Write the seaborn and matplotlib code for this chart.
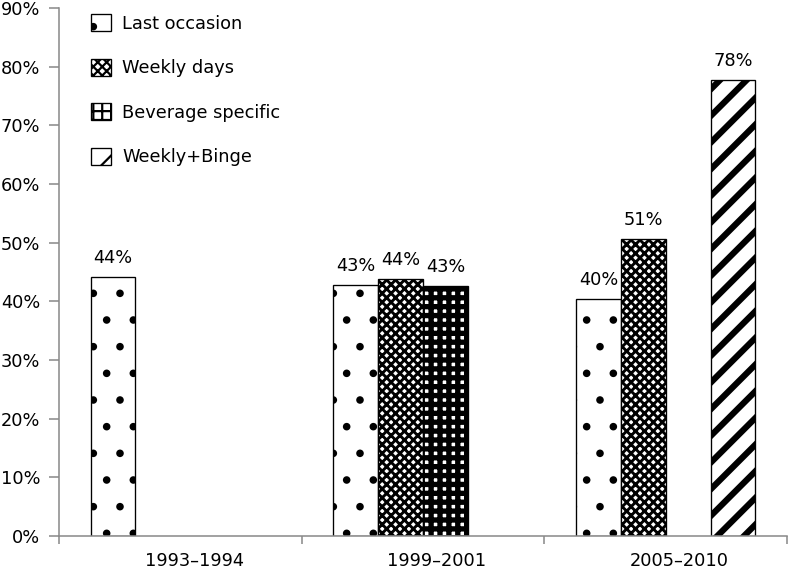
import numpy as np
import pandas as pd
import matplotlib
matplotlib.use('Agg')
import matplotlib.pyplot as plt
import matplotlib.patches as mpatches
import matplotlib.transforms as mtransforms
import seaborn as sns

# data (percent)
periods = ['1993–1994', '1999–2001', '2005–2010']
measures = ['Last occasion', 'Weekly days', 'Beverage specific', 'Weekly+Binge']
last_occasion = [44.1, 42.8, 40.4]
weekly_days = [np.nan, 43.8, 50.6]
beverage_specific = [np.nan, 42.6, np.nan]
weekly_binge = [np.nan, np.nan, 77.8]

rows = []
for m, vals in zip(measures, [last_occasion, weekly_days, beverage_specific, weekly_binge]):
    for p, v in zip(periods, vals):
        rows.append({'period': p, 'measure': m, 'value': v})
df = pd.DataFrame(rows).dropna()

sns.set_style('white')
plt.rcParams['font.family'] = ['DejaVu Sans']
plt.rcParams['font.size'] = 8
plt.rcParams['text.color'] = 'black'
plt.rcParams['xtick.color'] = 'black'
plt.rcParams['ytick.color'] = 'black'

DPI = 160
fig = plt.figure(figsize=(788 / DPI, 571 / DPI), dpi=DPI)
ax = fig.add_axes([59 / 788, 35 / 571, 728 / 788, 528 / 571])

WIDTH = 0.74
sns.barplot(data=df, x='period', y='value', hue='measure', order=periods,
            hue_order=measures, palette=['white'] * 4, saturation=1,
            width=WIDTH, edgecolor='black', linewidth=0.6, legend=False, ax=ax)

# hatch pattern + hatch linewidth (pt) per measure
styles = {
    'Last occasion': ('.', 1.0),
    'Weekly days': ('xxxxxx', 1.3),
    'Beverage specific': ('+++', 2.4),
    'Weekly+Binge': ('//', 2.8),
}

def style_patch(p, m):
    h, lw = styles[m]
    p.set_hatch(h)
    if hasattr(p, 'set_hatch_linewidth'):
        p.set_hatch_linewidth(lw)

for p in ax.patches:
    if p.get_height() == 0 or np.isnan(p.get_height()):
        continue
    cx = p.get_x() + p.get_width() / 2
    cat = round(cx)
    slot = int(round((cx - cat + WIDTH / 2) / (WIDTH / 4) - 0.5))
    style_patch(p, measures[slot])
    ax.annotate(f'{p.get_height():.0f}%', (cx, p.get_height()), xytext=(0, 4.5),
                textcoords='offset points', ha='center', va='bottom', fontsize=8)

ax.set_ylim(0, 90)
ax.set_yticks(range(0, 91, 10))
ax.set_yticklabels([f'{t}%' for t in range(0, 91, 10)])
ax.set_xlim(-0.5, 2.5)
ax.set_xticks([-0.5, 0.5, 1.5, 2.5])
ax.set_xticklabels([])
ax.set_xticks(range(len(periods)), minor=True)
ax.set_xticklabels(periods, minor=True)
ax.set_xlabel('')
ax.set_ylabel('')

gray = '#8a8a8a'
for s in ['top', 'right']:
    ax.spines[s].set_visible(False)
for s in ['left', 'bottom']:
    ax.spines[s].set_color(gray)
    ax.spines[s].set_linewidth(0.7)
ax.tick_params(axis='y', which='major', direction='out', length=4.5, width=0.7,
               color=gray, labelcolor='black', pad=4, labelsize=8, left=True)
ax.tick_params(axis='x', which='major', direction='out', length=3.6, width=0.7,
               color=gray, bottom=True)
ax.tick_params(axis='x', which='minor', length=0, pad=7, labelsize=8, labelcolor='black')
shift = mtransforms.ScaledTranslation(14 / DPI, 0, fig.dpi_scale_trans)
for lab in ax.get_xticklabels(minor=True):
    lab.set_transform(lab.get_transform() + shift)

handles = []
for m in measures:
    hp = mpatches.Patch(facecolor='white', edgecolor='black', linewidth=0.6)
    style_patch(hp, m)
    handles.append(hp)
ax.legend(handles, measures, loc='upper left', bbox_to_anchor=(32 / 728, 1 - 6 / 528),
          frameon=False, borderpad=0, borderaxespad=0, handlelength=1.13,
          handleheight=1.13, handletextpad=0.62, labelspacing=1.45, fontsize=8)

fig.savefig('out.png', dpi=DPI)
